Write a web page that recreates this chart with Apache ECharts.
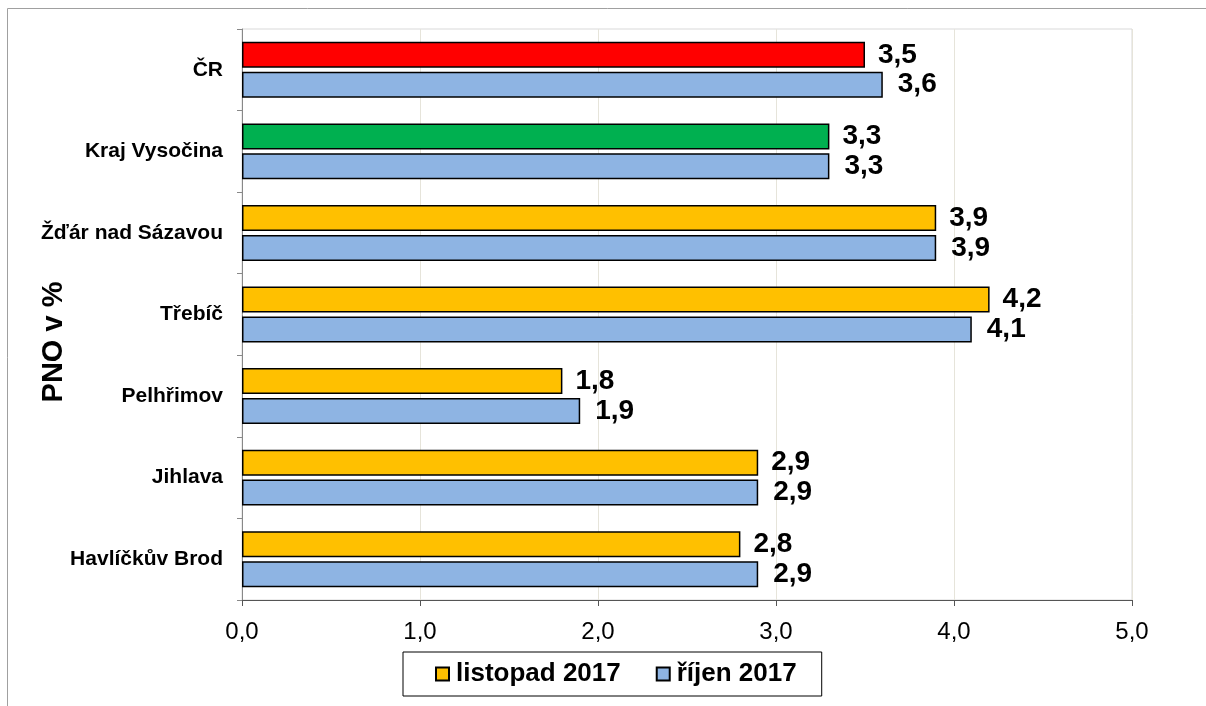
<!DOCTYPE html>
<html>
<head>
<meta charset="utf-8">
<script src="https://cdn.jsdelivr.net/npm/echarts@6/dist/echarts.min.js"></script>
<style>
html,body{margin:0;padding:0;background:#fff;}
#chart{width:1206px;height:706px;}
</style>
</head>
<body>
<div id="chart"></div>
<script>
var categories = ['ČR', 'Kraj Vysočina', 'Žďár nad Sázavou', 'Třebíč', 'Pelhřimov', 'Jihlava', 'Havlíčkův Brod'];
var listopad = [3.5, 3.3, 3.9, 4.2, 1.8, 2.9, 2.8];
var rijen = [3.6, 3.3, 3.9, 4.1, 1.9, 2.9, 2.9];
var listopadColors = ['#FF0000', '#00B050', '#FFC000', '#FFC000', '#FFC000', '#FFC000', '#FFC000'];
var seriesNames = ['listopad 2017', 'říjen 2017'];
var axisTitle = 'PNO v %';

function fmt(v) { return Number(v).toFixed(1).replace('.', ','); }

var chart = echarts.init(document.getElementById('chart'));
var font = 'Liberation Sans, Arial, sans-serif';
chart.setOption({
  animation: false,
  textStyle: { fontFamily: font },
  graphic: [
    { type: 'rect', shape: { x: 7.5, y: 8.5, width: 1400, height: 900 }, style: { fill: null, stroke: '#a0a0a0', lineWidth: 1 }, z: 0 },
    { type: 'text', x: 54, y: 342, rotation: Math.PI / 2,
      style: { text: axisTitle, font: 'bold 29px Liberation Sans, Arial, sans-serif', fill: '#000', align: 'center', verticalAlign: 'middle' } }
  ],
  grid: { left: 242, right: 74, top: 29, bottom: 106, show: true, borderColor: '#d9d9d9', borderWidth: 1 },
  legend: {
    left: 403, top: 652,
    padding: [9, 25, 9, 32],
    borderColor: '#000', borderWidth: 1,
    itemWidth: 13, itemHeight: 13, itemGap: 35,
    icon: 'rect',
    textStyle: { fontSize: 26, fontWeight: 'bold', color: '#000', fontFamily: font, padding: [0, 0, 0, 2] },
    data: seriesNames
  },
  xAxis: {
    type: 'value', min: 0, max: 5, interval: 1,
    axisLine: { show: true, lineStyle: { color: '#555', width: 1 } },
    axisTick: { show: true, length: 6, lineStyle: { color: '#555' } },
    axisLabel: { formatter: fmt, fontSize: 24, color: '#000', margin: 20, fontFamily: font },
    splitLine: { show: true, lineStyle: { color: '#e6e4da' } }
  },
  yAxis: {
    type: 'category', data: categories, inverse: true,
    axisLine: { show: true, lineStyle: { color: '#888', width: 1 } },
    axisTick: { show: true, length: 5, lineStyle: { color: '#888' } },
    axisLabel: { fontSize: 21, fontWeight: 'bold', color: '#000', margin: 19, fontFamily: font },
    splitLine: { show: false }
  },
  series: [
    {
      name: seriesNames[0], type: 'bar', barWidth: 26, barGap: '15%',
      itemStyle: { color: '#FFC000', borderColor: '#000', borderWidth: 1.5 },
      data: listopad.map(function (v, i) { return { value: v, itemStyle: { color: listopadColors[i] } }; }),
      label: { show: true, position: 'right', distance: 13, formatter: function (p) { return fmt(p.value); },
        fontSize: 28, fontWeight: 'bold', color: '#000', fontFamily: font }
    },
    {
      name: seriesNames[1], type: 'bar', barWidth: 26, barGap: '15%',
      itemStyle: { color: '#8EB4E3', borderColor: '#000', borderWidth: 1.5 },
      data: rijen,
      label: { show: true, position: 'right', distance: 15, formatter: function (p) { return fmt(p.value); },
        fontSize: 28, fontWeight: 'bold', color: '#000', fontFamily: font }
    }
  ]
});
</script>
</body>
</html>
